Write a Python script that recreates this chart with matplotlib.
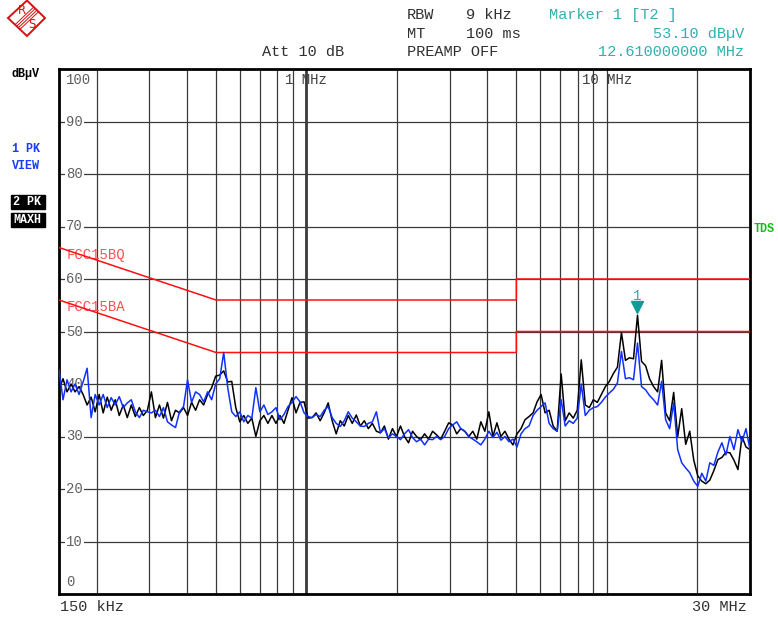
import numpy as np
import matplotlib
matplotlib.use("Agg")
import matplotlib.pyplot as plt
from matplotlib.patches import Polygon, Rectangle

plt.rcParams['font.family'] = ['Liberation Mono', 'DejaVu Sans Mono']

# sweep: 150 kHz .. 30 MHz, log spaced (MHz)
f_start, f_stop = 0.15, 30.0

# trace 2, peak max hold (dBuV)
trace2_maxh = [
    39, 41, 38.5, 40, 38.5, 39.5, 38, 36, 37.5, 34.7,
    38, 34.5, 37.5, 35, 37, 34, 36, 33.6, 36, 33.8,
    35.5, 34, 35, 38.5, 33.6, 36, 33.5, 36.5, 33, 35,
    34.5, 35.5, 34, 36.5, 35, 37, 36, 38, 39.3, 41.5,
    41.7, 42.5, 40.4, 40.5, 35.5, 32.8, 34, 32.5, 33.5, 30,
    33, 34, 32.5, 34, 32.5, 34, 32.5, 35, 37.4, 34.5,
    36.5, 36.6, 33.5, 33.6, 34.5, 33, 34.5, 36.4, 33, 30.5,
    33, 32, 34, 32.5, 34.1, 32, 33, 31.5, 32.5, 31,
    30.7, 32, 29.5, 31.5, 30, 32, 30, 28.8, 31, 30,
    29.4, 30.5, 29.5, 31, 30.3, 29.5, 31, 32.6, 32.2, 30.5,
    31.5, 31, 30, 31, 29.5, 32.8, 31, 34.7, 30, 32.6,
    30, 31, 29.5, 28.4, 30.5, 31.5, 33.2, 33.8, 34.5, 36.6,
    38, 34.5, 35, 32, 31, 41.9, 33, 34.5, 33.5, 35,
    44.6, 36, 35.5, 37, 36.5, 38, 39.5, 40.5, 42, 43.2,
    49.8, 44.5, 45, 44.8, 53.1, 44.3, 43.5, 41, 39.5, 38.5,
    44.5, 34.5, 33, 38.4, 30, 35.3, 28.5, 31, 25.5, 22.5,
    21.5, 21, 21.7, 23.5, 25.6, 26, 27, 26.9, 25.5, 23.7,
    30, 28, 27.5,
]

# trace 1, peak view (dBuV)
trace1_view = [
    42.7, 37, 40.8, 38.5, 40, 38, 40.4, 43, 33.6, 38,
    36, 38, 35.5, 37.4, 36, 37.6, 35.5, 36.4, 37, 34.7,
    33.6, 35, 34.7, 34.5, 35, 33.8, 35.5, 32.8, 32.2, 31.7,
    34.7, 35.7, 40.8, 36.5, 38.5, 38, 36.6, 38.5, 37, 40,
    41, 46, 39.3, 34.7, 33.8, 34.7, 32.8, 34, 33.5, 39.3,
    34.7, 36, 34.2, 34.7, 35.5, 33.2, 34.2, 35.7, 36.5, 37.6,
    36.6, 34.5, 33.8, 33.6, 34.2, 33.8, 35, 35.7, 33.6, 32.5,
    31.9, 33, 34.7, 33.5, 32.8, 32, 31.9, 32.5, 32.8, 34.7,
    30.7, 31.5, 29.8, 30.5, 30, 29.4, 30.5, 31.3, 29.8, 29,
    29.5, 28.4, 29.5, 29.4, 30, 29.4, 30, 31.5, 32.2, 32.8,
    31.5, 31, 30, 29.5, 29, 28.4, 29.5, 31, 29.8, 30.8,
    29.3, 30, 29, 29.5, 28, 30.5, 31.5, 32, 34, 35,
    35.7, 36.4, 32.5, 31.5, 31, 37, 32, 33, 32.5, 33.5,
    40, 34, 35, 35.5, 35.7, 36.5, 37.5, 38.3, 39, 40.2,
    46.2, 41, 41.2, 40.8, 47.8, 39.5, 38.9, 37.8, 37, 36,
    40.5, 33.2, 31.5, 36.4, 27.5, 25, 24, 23.1, 21.5, 20.5,
    23, 21.5, 25, 24.5, 27, 28.8, 26.5, 30, 27.5, 31.3,
    29, 31.5, 27.5,
]

# FCC part 15B conducted limits
qp_freq = [0.15, 0.5, 5.0, 5.0, 30.0]
qp_level = [66, 56, 56, 60, 60]
av_freq = [0.15, 0.5, 5.0, 5.0, 30.0]
av_level = [56, 46, 46, 50, 50]

marker_freq = 12.61
marker_level = 53.10

y_ticks = [10, 20, 30, 40, 50, 60, 70, 80, 90]
grid_freqs = [0.2, 0.3, 0.4, 0.5, 0.6, 0.7, 0.8, 0.9, 1.0,
              2, 3, 4, 5, 6, 7, 8, 9, 10, 20]

W, H = 778, 620
fig = plt.figure(figsize=(W / 100, H / 100), dpi=100)

# header / side panel in pixel coordinates
ov = fig.add_axes([0, 0, 1, 1])
ov.set_xlim(0, W)
ov.set_ylim(H, 0)
ov.axis('off')

ax = fig.add_axes([59 / W, (H - 594) / H, (750 - 59) / W, (594 - 69) / H])
ax.set_xscale('log')
ax.set_xlim(f_start, f_stop)
ax.set_ylim(0, 100)
ax.set_xticks([])
ax.set_yticks([])
ax.minorticks_off()
for s in ax.spines.values():
    s.set_linewidth(2.0)
    s.set_color('black')

grid_col = '#3a3a3a'
for f in grid_freqs:
    ax.axvline(f, color=grid_col, lw=2.0 if f == 1.0 else 0.9, zorder=1)
for v in y_ticks:
    ax.axhline(v, color=grid_col, lw=0.9, zorder=1)

# level labels sit on the grid lines
tr = ax.get_yaxis_transform()
for v in y_ticks:
    ax.text(0.0105, v, str(v), transform=tr, ha='left', va='center',
            fontsize=10, color='#606060', zorder=3,
            bbox=dict(facecolor='white', edgecolor='none', pad=0.6))
ax.text(0.0105, 97.9, '100', transform=tr, ha='left', va='center',
        fontsize=10, color='#606060')
ax.text(0.0105, 2.2, '0', transform=tr, ha='left', va='center',
        fontsize=10, color='#606060')
ax.text(1.0, 97.9, '1 MHz', ha='center', va='center', fontsize=10, color='#404040')
ax.text(10.0, 97.9, '10 MHz', ha='center', va='center', fontsize=10, color='#404040')

# limit lines
ax.plot(qp_freq, qp_level, color='#ff1010', lw=1.1, zorder=4)
ax.plot(av_freq, av_level, color='#ff1010', lw=1.1, zorder=4)
ax.text(0.159, 64.6, 'FCC15BQ', ha='left', va='center', fontsize=10, color='#ff5050')
ax.text(0.159, 54.7, 'FCC15BA', ha='left', va='center', fontsize=10, color='#ff5050')

# traces
sweep = np.geomspace(f_start, f_stop, len(trace2_maxh))
ax.plot(sweep, trace2_maxh, color='black', lw=1.1, zorder=5)
ax.plot(sweep, trace1_view, color='#1030ff', lw=1.1, zorder=6)

# marker 1 on trace 2
ax.plot([marker_freq], [marker_level + 1.5], marker='v', ms=8,
        color='#119a9a', ls='none', zorder=7)
ax.text(marker_freq, 56.8, '1', ha='center', va='center', fontsize=10, color='#20b0b0')

# R&S logo
red = '#d81010'
ov.add_patch(Polygon([(8, 18), (27, 0.5), (45, 18), (27, 36)], closed=True,
                     fill=False, edgecolor=red, lw=1.4))
for d in (-2.4, -0.8, 0.8, 2.4):
    ov.plot([17.5 + d, 36 + d], [27 + d, 9.5 + d], color=red, lw=0.7)
ov.text(21.5, 11, 'R', ha='center', va='center', fontsize=8.5, color=red, family='DejaVu Sans')
ov.text(32, 25, 'S', ha='center', va='center', fontsize=8.5, color=red, family='DejaVu Sans')

# settings header
hdr = dict(fontsize=11, color='#303030', va='center')
teal = '#30b0b0'
ov.text(407, 15, 'RBW', **hdr)
ov.text(466, 15, '9 kHz', **hdr)
ov.text(407, 34, 'MT', **hdr)
ov.text(466, 34, '100 ms', **hdr)
ov.text(262, 52, 'Att 10 dB', **hdr)
ov.text(407, 52, 'PREAMP OFF', **hdr)
ov.text(549, 15, 'Marker 1 [T2 ]', fontsize=11, color=teal, va='center')
ov.text(744, 34, '53.10 dB\u00b5V', fontsize=11, color=teal, va='center', ha='right')
ov.text(744, 52, '12.610000000 MHz', fontsize=11, color=teal, va='center', ha='right')

# side panel
ov.text(12, 74, 'dB\u00b5V', fontsize=8.5, weight='bold', color='black', va='center')
ov.text(12, 149, '1 PK', fontsize=8.5, weight='bold', color='#1a3cff', va='center')
ov.text(12, 166, 'VIEW', fontsize=8.5, weight='bold', color='#1a3cff', va='center')
ov.add_patch(Rectangle((11, 195), 34, 14, color='black'))
ov.add_patch(Rectangle((11, 213), 34, 14, color='black'))
ov.text(13, 202, '2 PK', fontsize=8.5, weight='bold', color='white', va='center')
ov.text(13, 220, 'MAXH', fontsize=8.5, weight='bold', color='white', va='center')
ov.text(754, 229, 'TDS', fontsize=8.5, weight='bold', color='#10c010', va='center')

# span labels
ov.text(60, 607, '150 kHz', fontsize=11, color='#303030', va='center')
ov.text(747, 607, '30 MHz', fontsize=11, color='#303030', va='center', ha='right')

fig.savefig('out.png', dpi=100)
